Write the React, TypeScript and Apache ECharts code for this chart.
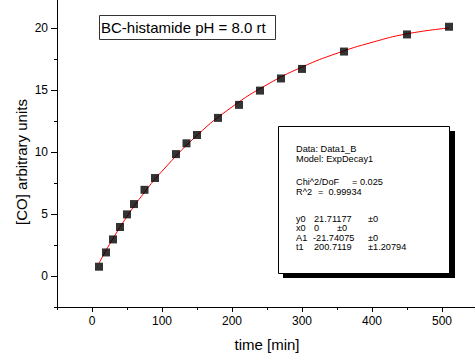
import React, { useEffect, useRef } from "react";
import * as echarts from "echarts";

const timeMin = [10, 20, 30, 40, 50, 60, 75, 90, 120, 135, 150, 180, 210, 240, 270, 300, 360, 450, 510];
const coValues = [0.75, 1.9, 2.95, 3.95, 4.97, 5.8, 6.95, 7.9, 9.83, 10.7, 11.37, 12.75, 13.8, 14.95, 15.93, 16.7, 18.1, 19.48, 20.1];

const fitTime = [10, 25, 50, 75, 100, 150, 200, 250, 300, 350, 400, 450, 510];
const fitValues = [1.03, 2.55, 4.8, 6.75, 8.45, 11.34, 13.63, 15.43, 16.85, 17.96, 18.84, 19.53, 20.0];

const xMajorTicks = [0, 100, 200, 300, 400, 500];
const xMinorTicks = [-50, 50, 150, 250, 350, 450, 550];
const yMajorTicks = [0, 5, 10, 15, 20];
const yMinorTicks = [-2.5, 2.5, 7.5, 12.5, 17.5, 22.5];

const FONT = "Liberation Sans, Arial, sans-serif";

export default function App() {
  const ref = useRef<HTMLDivElement>(null);
  useEffect(() => {
    if (!ref.current) return;
    const chart = echarts.init(ref.current, null, { renderer: "svg" });
    const txt = (text: string, x: number, y: number, size = 9.2) => ({
      type: "text",
      x,
      y,
      z: 20,
      style: {
        text,
        fill: "#000",
        font: `${size}px ${FONT}`,
        textVerticalAlign: "middle",
      },
    });
    const baseX = {
      type: "value",
      min: -50,
      max: 550,
      gridIndex: 0,
      splitLine: { show: false },
    };
    const baseY = {
      type: "value",
      min: -2.5,
      max: 22.5,
      gridIndex: 0,
      splitLine: { show: false },
    };
    chart.setOption({
      animation: false,
      backgroundColor: "#fff",
      grid: { left: 57, right: -2, top: -3, bottom: 46, containLabel: false, outerBoundsMode: "none" },
      xAxis: [
        {
          ...baseX,
          position: "bottom",
          name: "time [min]",
          nameLocation: "middle",
          nameGap: 30,
          nameTextStyle: { fontFamily: FONT, fontSize: 15, color: "#000" },
          axisLine: { show: true, onZero: false, lineStyle: { color: "#000", width: 1 } },
          axisTick: { show: true, inside: false, length: 5, customValues: xMajorTicks, lineStyle: { color: "#000" } },
          axisLabel: { customValues: xMajorTicks, fontFamily: FONT, fontSize: 12, color: "#000", margin: 8 },
        },
        {
          ...baseX,
          position: "bottom",
          axisLine: { show: false, onZero: false },
          axisTick: { show: true, inside: false, length: 3, customValues: xMinorTicks, lineStyle: { color: "#000" } },
          axisLabel: { show: false },
        },
      ],
      yAxis: [
        {
          ...baseY,
          position: "left",
          axisLine: { show: true, onZero: false, lineStyle: { color: "#000", width: 1 } },
          axisTick: { show: true, inside: false, length: 6, customValues: yMajorTicks, lineStyle: { color: "#000" } },
          axisLabel: { customValues: yMajorTicks, fontFamily: FONT, fontSize: 12, color: "#000", margin: 9 },
        },
        {
          ...baseY,
          position: "left",
          axisLine: { show: false, onZero: false },
          axisTick: { show: true, inside: false, length: 3, customValues: yMinorTicks, lineStyle: { color: "#000" } },
          axisLabel: { show: false },
        },
      ],
      series: [
        {
          type: "line",
          xAxisIndex: 0,
          yAxisIndex: 0,
          data: fitTime.map((t, i) => [t, fitValues[i]]),
          smooth: true,
          showSymbol: false,
          lineStyle: { color: "#ff0000", width: 1 },
          z: 2,
        },
        {
          type: "scatter",
          xAxisIndex: 0,
          yAxisIndex: 0,
          data: timeMin.map((t, i) => [t, coValues[i]]),
          symbol: "rect",
          symbolSize: 8,
          itemStyle: { color: "#000" },
          z: 3,
        },
      ],
      graphic: [
        {
          type: "text",
          x: 21,
          y: 162,
          rotation: Math.PI / 2,
          style: {
            text: "[CO] arbitrary units",
            fill: "#000",
            font: `15px ${FONT}`,
            textAlign: "center",
            textVerticalAlign: "middle",
          },
        },
        {
          type: "rect",
          shape: { x: 99.5, y: 15.5, width: 176, height: 24 },
          style: { fill: "#fff", stroke: "#333", lineWidth: 1 },
          z: 10,
        },
        txt("BC-histamide pH = 8.0 rt", 101, 27.5, 15),
        {
          type: "rect",
          shape: { x: 283, y: 131, width: 172, height: 147 },
          style: { fill: "#000" },
          z: 10,
        },
        {
          type: "rect",
          shape: { x: 278.5, y: 126.5, width: 171, height: 147 },
          style: { fill: "#fff", stroke: "#000", lineWidth: 1 },
          z: 11,
        },
        txt("Data: Data1_B", 296, 148.5),
        txt("Model: ExpDecay1", 296, 158.5),
        txt("Chi^2/DoF", 296, 181.5),
        txt("= 0.025", 352, 181.5),
        txt("R^2", 296, 191.5),
        txt("=  0.99934", 318, 191.5),
        txt("y0", 296, 218.5),
        txt("21.71177", 314, 218.5),
        txt("±0", 368, 218.5),
        txt("x0", 296, 228),
        txt("0", 314, 228),
        txt("±0", 337, 228),
        txt("A1", 296, 237.5),
        txt("-21.74075", 313, 237.5),
        txt("±0", 368, 237.5),
        txt("t1", 296, 247),
        txt("200.7119", 314, 247),
        txt("±1.20794", 368, 247),
      ],
    });
    return () => chart.dispose();
  }, []);
  return <div ref={ref} style={{ width: 475, height: 353, position: "absolute", left: 0, top: 0 }} />;
}
